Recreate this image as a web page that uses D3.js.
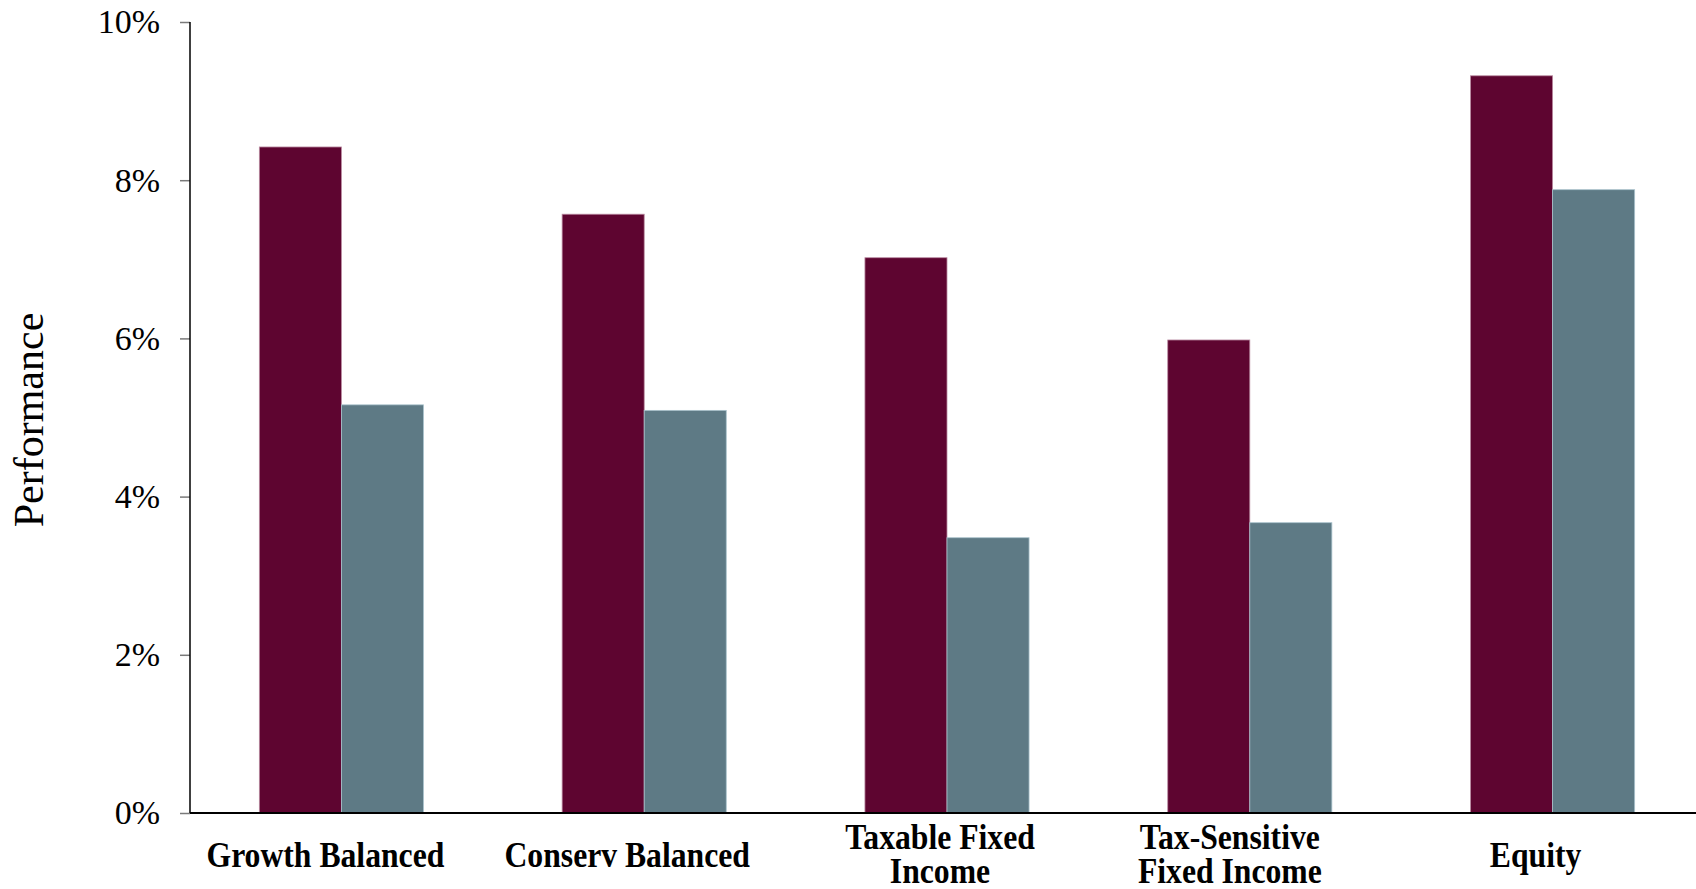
<!DOCTYPE html>
<html>
<head>
<meta charset="utf-8">
<script src="https://cdn.jsdelivr.net/npm/d3@7"></script>
<style>
  html, body { margin: 0; padding: 0; background: #fff; }
  svg { display: block; }
</style>
</head>
<body>
<svg id="chart" width="1696" height="889"></svg>
<script>
const categories = ["Growth Balanced", "Conserv Balanced", "Taxable Fixed Income", "Tax-Sensitive Fixed Income", "Equity"];
const categoryLines = [["Growth Balanced"], ["Conserv Balanced"], ["Taxable Fixed", "Income"], ["Tax-Sensitive", "Fixed Income"], ["Equity"]];
const seriesNames = ["Series A", "Series B"];
const seriesA = [8.42, 7.57, 7.02, 5.98, 9.32];
const seriesB = [5.16, 5.09, 3.48, 3.67, 7.88];
const yTicks = [0, 2, 4, 6, 8, 10];
const colors = ["#5e0530", "#5e7a85"];
const edgeColors = ["#b98aa0", "#a9c2cc"];

(function () {
const svg = d3.select("#chart");
const plotLeft = 190, plotTop = 22, plotBottom = 813;
const labelNudge = [-16, -17, -7, -20, -17];

const x = d3.scaleBand().domain(categories).range([190, 1704]).paddingInner(0.458).paddingOuter(0.229);
const xInner = d3.scaleBand().domain(seriesNames).range([0, x.bandwidth()]).padding(0);
const y = d3.scaleLinear().domain([0, 10]).range([plotBottom, plotTop]);

const rows = categories.map((c, i) => ({ cat: c, vals: [seriesA[i], seriesB[i]] }));

const groups = svg.append("g").selectAll("g").data(rows).join("g")
  .attr("transform", d => `translate(${x(d.cat)},0)`);
groups.selectAll("rect").data(d => d.vals.map((v, j) => ({ s: seriesNames[j], v, j })))
  .join("rect")
  .attr("x", d => xInner(d.s))
  .attr("y", d => y(d.v))
  .attr("width", xInner.bandwidth())
  .attr("height", d => y(0) - y(d.v))
  .attr("fill", d => colors[d.j])
  .attr("stroke", d => edgeColors[d.j])
  .attr("stroke-width", 0.8);

// Y axis
const yAxis = d3.axisLeft(y).tickValues(yTicks).tickFormat(d => d + "%").tickSize(10).tickPadding(20);
const gy = svg.append("g").attr("transform", `translate(${plotLeft},0)`).call(yAxis);
gy.select(".domain").remove();
gy.selectAll(".tick line").attr("stroke", "#7a7a7a").attr("stroke-width", 1.5);
gy.selectAll(".tick text")
  .attr("font-family", "'Liberation Serif', 'Times New Roman', serif")
  .attr("font-size", 34)
  .attr("fill", "#000");
svg.append("line").attr("x1", plotLeft).attr("x2", plotLeft).attr("y1", plotTop).attr("y2", plotBottom)
  .attr("stroke", "#000").attr("stroke-width", 1.5);
svg.append("line").attr("x1", plotLeft).attr("x2", 1696).attr("y1", plotBottom).attr("y2", plotBottom)
  .attr("stroke", "#000").attr("stroke-width", 1.8);

// X labels
const labelG = svg.append("g");
categoryLines.forEach((lines, i) => {
  const cx = x(categories[i]) + x.bandwidth() / 2 + labelNudge[i];
  const n = lines.length;
  const baseY = n === 1 ? 867 : 849;
  const t = labelG.append("text")
    .attr("transform", `translate(${cx},${baseY}) scale(0.88,1)`)
    .attr("text-anchor", "middle")
    .attr("font-family", "'Liberation Serif', 'Times New Roman', serif")
    .attr("font-weight", "bold")
    .attr("font-size", 36)
    .attr("fill", "#000");
  lines.forEach((ln, k) => {
    t.append("tspan").attr("x", 0).attr("y", k * 34).text(ln);
  });
});

// Y title
svg.append("text")
  .attr("transform", "translate(43,420) rotate(-90)")
  .attr("text-anchor", "middle")
  .attr("font-family", "'Liberation Serif', 'Times New Roman', serif")
  .attr("font-size", 42)
  .attr("fill", "#000")
  .text("Performance");
})();
</script>
</body>
</html>
